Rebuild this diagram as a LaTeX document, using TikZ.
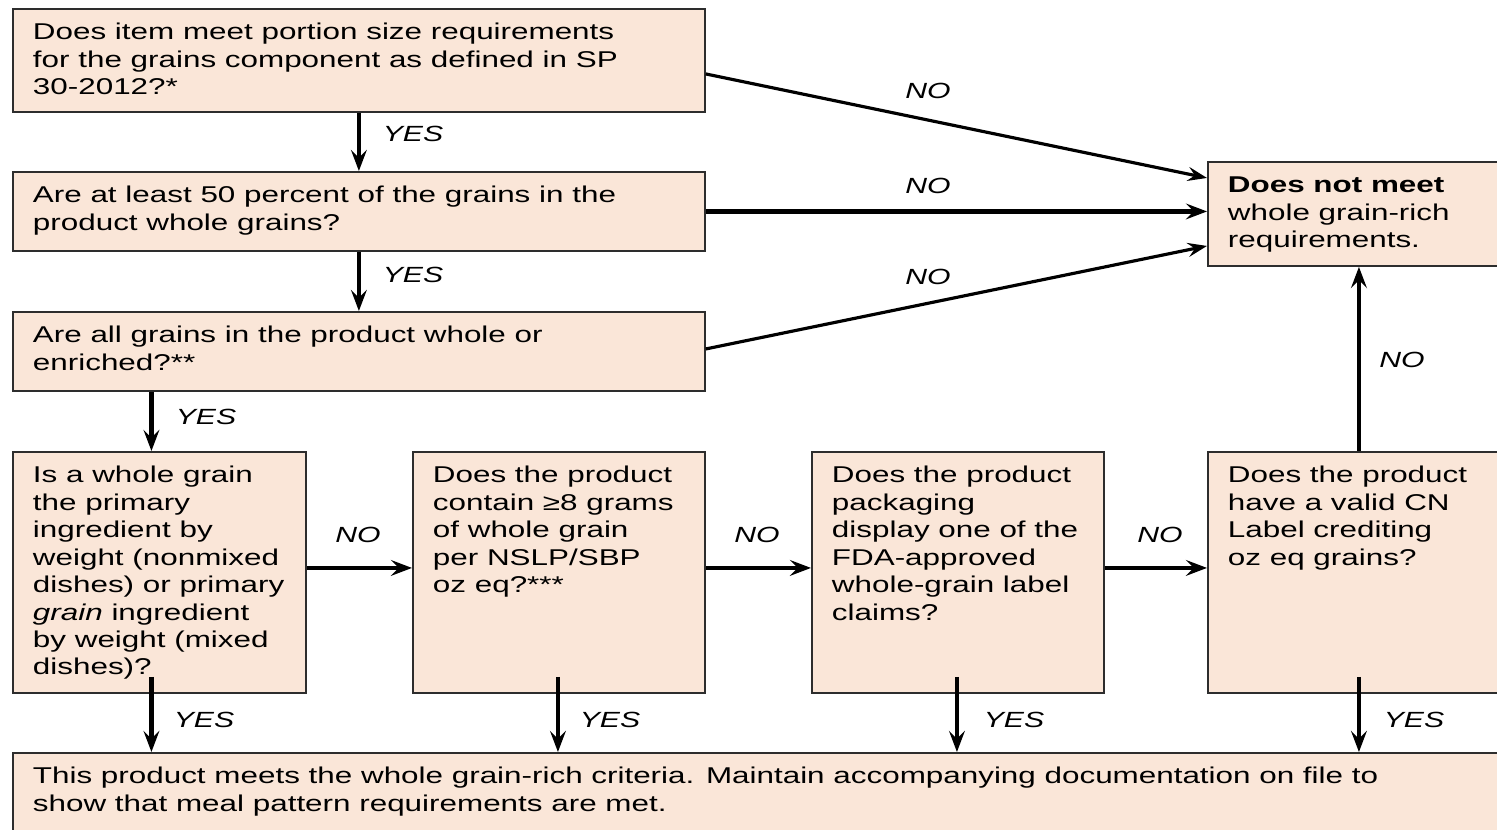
\documentclass[tikz,border=0pt]{standalone}
\usepackage{fontspec}
\setmainfont{Liberation Sans}[FakeStretch=1.375]
\usepackage{tikz}
\usetikzlibrary{arrows.meta}
\definecolor{boxfill}{RGB}{250,230,216}
\definecolor{boxline}{RGB}{45,45,45}
\newcommand{\boxtext}[3]{\parbox[t][#2][t]{\dimexpr#1-0.8cm\relax}{\rule{0pt}{0.62cm}#3}}
\tikzset{
  box/.style={draw=boxline,fill=boxfill,line width=1.1pt,anchor=north west,inner xsep=0.4cm,inner ysep=0pt},
  arr/.style={line width=2.6pt,-{Stealth[length=12pt,width=9pt,inset=4.5pt]}},
  thinarr/.style={line width=1.8pt,-{Stealth[length=11pt,width=8pt,inset=4pt]}},
  lab/.style={font=\itshape\fontsize{12.5}{14}\selectfont,inner sep=1pt}
}

\begin{document}
\begin{tikzpicture}[x=0.02cm,y=-0.02cm,font=\fontsize{13}{15.6}\selectfont]
\useasboundingbox (0,0) rectangle (1497,830);
\clip (0,0) rectangle (1497,830);
% question boxes
\node[box] (q1) at (12,8) {\boxtext{13.84cm}{2.06cm}{Does item meet portion size requirements\\for the grains component as defined in SP\\30-2012?*}};
\node[box] (q2) at (12,171) {\boxtext{13.84cm}{1.58cm}{Are at least 50 percent of the grains in the\\product whole grains?}};
\node[box] (q3) at (12,311) {\boxtext{13.84cm}{1.58cm}{Are all grains in the product whole or\\enriched?**}};
\node[box] (nomeet) at (1207,161) {\boxtext{6.04cm}{2.08cm}{\textbf{Does not meet}\\whole grain-rich\\requirements.}};
\node[box] (qa) at (12,451) {\boxtext{5.86cm}{4.82cm}{Is a whole grain\\the primary\\ingredient by\\weight (nonmixed\\dishes) or primary\\\textit{grain} ingredient\\by weight (mixed\\dishes)?}};
\node[box] (qb) at (412,451) {\boxtext{5.84cm}{4.82cm}{Does the product\\contain ≥8 grams\\of whole grain\\per NSLP/SBP\\oz eq?***}};
\node[box] (qc) at (811,451) {\boxtext{5.84cm}{4.82cm}{Does the product\\packaging\\display one of the\\FDA-approved\\whole-grain label\\claims?}};
\node[box] (qd) at (1207,451) {\boxtext{6.04cm}{4.82cm}{Does the product\\have a valid CN\\Label crediting\\oz eq grains?}};
\node[box] (meets) at (12,752) {\boxtext{30cm}{2cm}{This product meets the whole grain-rich criteria. Maintain accompanying documentation on file to\\show that meal pattern requirements are met.}};

% yes path
\coordinate (ya) at ([shift={(-8,-17)}]qa.south);
\coordinate (yb) at ([shift={(-1,-17)}]qb.south);
\coordinate (yc) at ([shift={(-1,-17)}]qc.south);
\coordinate (yd) at ([shift={(0,-17)}]qd.south);
\draw[arr] (q1.south) -- (q2.north);
\draw[arr] (q2.south) -- (q3.north);
\draw[arr] (q3.south -| ya) -- (qa.north -| ya);
\draw[arr] (ya) -- (ya |- meets.north);
\draw[arr] (yb) -- (yb |- meets.north);
\draw[arr] (yc) -- (yc |- meets.north);
\draw[arr] (yd) -- (yd |- meets.north);

% no path
\draw[thinarr] ([yshift=-0.27cm]q1.east) -- ([yshift=0.72cm]nomeet.west);
\draw[arr] (q2.east) -- (q2.east -| nomeet.west);
\draw[thinarr] ([yshift=0.05cm]q3.east) -- ([yshift=-0.64cm]nomeet.west);
\draw[arr] ([yshift=0.09cm]qa.east) -- ([yshift=0.09cm]qb.west);
\draw[arr] ([yshift=0.09cm]qb.east) -- ([yshift=0.09cm]qc.west);
\draw[arr] ([yshift=0.09cm]qc.east) -- ([yshift=0.09cm]qd.west);
\draw[arr] (qd.north) -- (nomeet.south);

% labels
\node[lab] (yes1) at (413,134) {YES};
\node[lab] (yes2) at (413,275) {YES};
\node[lab] (yes3) at (206,417) {YES};
\node[lab] (no1) at (928,91) {NO};
\node[lab] (no2) at (928,186) {NO};
\node[lab] (no3) at (928,277) {NO};
\node[lab] (no4) at (358,535) {NO};
\node[lab] (no5) at (757,535) {NO};
\node[lab] (no6) at (1160,535) {NO};
\node[lab] (no7) at (1402,360) {NO};
\node[lab] (yes4) at (204,720) {YES};
\node[lab] (yes5) at (610,720) {YES};
\node[lab] (yes6) at (1014,720) {YES};
\node[lab] (yes7) at (1414,720) {YES};
\end{tikzpicture}
\end{document}
